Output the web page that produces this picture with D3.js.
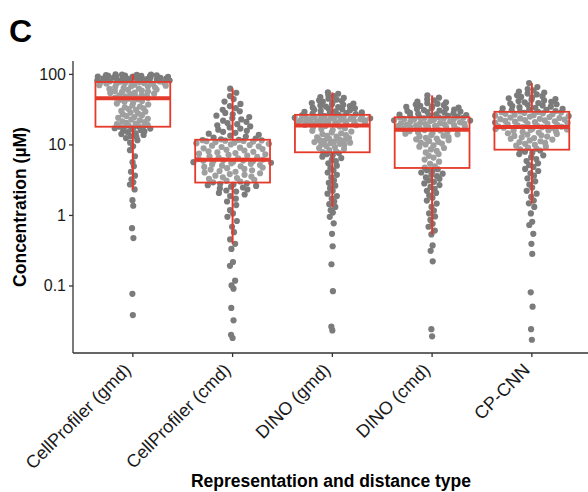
<!DOCTYPE html>
<html>
<head>
<meta charset="utf-8">
<script src="https://cdn.jsdelivr.net/npm/d3@7"></script>
<style>
  body { margin: 0; background: #fff; }
  svg { display: block; font-family: "Liberation Sans", Arial, sans-serif; }
</style>
</head>
<body>
<div id="chart"></div>
<script>
// categories on the x axis
const categories = ['CellProfiler (gmd)', 'CellProfiler (cmd)', 'DINO (gmd)', 'DINO (cmd)', 'CP-CNN'];

const cpGmd = [0.038, 0.076, 0.47, 0.65, 1.35, 1.62, 2.3, 2.7, 2.9, 3.2, 3.6, 4.1, 4.9, 5.6, 6.8, 8.3, 9.4,
  10.6, 11.5, 12.3, 12.8, 13.1, 13.6, 14.0, 14.4, 14.9, 15.3, 15.6, 16.0, 16.4, 16.8, 17.0, 17.3, 17.5, 17.6, 17.9,
  18.2, 18.5, 18.9, 19.4, 19.8, 20.3, 20.7, 21.2, 21.9, 22.5, 23.1, 23.8, 24.4, 25.2, 26.0, 26.7, 27.5, 28.3, 29.1,
  29.9, 30.8, 31.7, 32.5, 33.6, 34.5, 35.7, 36.8, 37.9, 39.0, 40.2, 41.4, 42.6, 43.7, 44.6, 45.4,
  46.3, 47.1, 48.0, 48.9, 49.7, 50.8, 51.6, 52.5, 53.6, 54.4, 55.5, 56.3, 57.4, 58.2, 59.3, 60.1, 61.2, 62.0, 63.2,
  64.1, 65.0, 66.2, 67.0, 68.1, 69.0, 70.2, 71.1, 72.0, 72.9, 73.8, 74.6, 75.3, 76.0, 76.7,
  77.3, 78.0, 78.6, 79.3, 80.0, 80.6, 81.2, 81.9, 82.5, 83.1, 83.8, 84.4, 85.0, 85.6, 86.3, 86.9, 87.5, 88.1, 88.8,
  89.4, 90.0, 90.6, 91.2, 91.8, 92.4, 93.0, 93.6, 94.2, 94.8, 95.4, 96.0, 96.7, 97.4, 98.1, 98.8];

const cpCmd = [0.018, 0.020, 0.032, 0.048, 0.09, 0.10, 0.117, 0.19, 0.215, 0.33,
  0.39, 0.45, 0.57, 0.68, 0.82, 0.94, 1.05, 1.17, 1.38, 1.55, 1.7, 1.85, 1.95, 2.05, 2.15, 2.22, 2.3, 2.38, 2.45,
  2.52, 2.58, 2.64, 2.7, 2.76, 2.82, 2.9,
  2.98, 3.06, 3.15, 3.24, 3.33, 3.42, 3.5, 3.6, 3.7, 3.8, 3.9, 4.0, 4.1, 4.2, 4.3, 4.4, 4.5, 4.6, 4.7, 4.8, 4.9,
  5.0, 5.1, 5.2, 5.3, 5.4, 5.5, 5.6, 5.7, 5.75, 5.8, 5.85, 5.9, 5.98, 6.1,
  6.2, 6.35, 6.5, 6.65, 6.8, 6.95, 7.1, 7.25, 7.4, 7.55, 7.7, 7.85, 8.0, 8.2, 8.4, 8.6, 8.8, 9.0, 9.2, 9.4, 9.6,
  9.8, 10.0, 10.2, 10.4, 10.6, 10.8, 10.95, 11.1, 11.2, 11.3, 11.4, 11.5, 11.6,
  11.8, 12.1, 12.5, 12.9, 13.3, 13.7, 14.2, 14.6, 15.1, 15.6, 16.2, 16.8, 17.4, 18.0, 18.7, 19.4, 20.1, 20.9, 21.7,
  22.6, 23.5, 24.5, 25.6, 26.8, 28.0, 29.5, 31.0, 32.8, 35.0, 37.5, 40.5, 44.0, 48.5, 54.0, 61.8];

const dinoGmd = [0.023, 0.026, 0.083, 0.2, 0.36, 0.54, 0.76, 0.94, 1.08, 1.17,
  1.3, 1.42, 1.55, 1.7, 1.85, 2.0, 2.2, 2.4, 2.6, 2.85, 3.1, 3.4, 3.7, 4.0, 4.3, 4.6, 5.0, 5.4, 5.8, 6.1, 6.4,
  6.7, 7.0, 7.3, 7.55, 7.8,
  8.0, 8.3, 8.6, 8.9, 9.2, 9.5, 9.8, 10.0, 10.2, 10.4, 10.6, 10.8, 11.0, 11.2, 11.4, 11.6, 11.8, 12.0, 12.3, 12.6,
  12.9, 13.2, 13.6, 14.0, 14.4, 14.8, 15.2, 15.6, 16.0, 16.5, 17.0, 17.5, 17.9, 18.3, 18.7,
  18.9, 19.1, 19.3, 19.5, 19.7, 19.9, 20.1, 20.3, 20.5, 20.7, 20.9, 21.1, 21.3, 21.5, 21.7, 21.9, 22.1, 22.3, 22.5,
  22.7, 22.9, 23.1, 23.3, 23.5, 23.8, 24.0, 24.3, 24.5, 24.8, 25.0, 25.3, 25.6, 25.9, 26.2,
  26.5, 26.9, 27.3, 27.7, 28.1, 28.5, 28.9, 29.4, 29.9, 30.4, 30.9, 31.4, 32.0, 32.6, 33.2, 33.8, 34.4, 35.0, 35.7,
  36.4, 37.1, 37.9, 38.7, 39.5, 40.4, 41.3, 42.3, 43.3, 44.4, 45.6, 47.0, 48.5, 50.2, 52.3, 54.8];

const dinoCmd = [0.019, 0.024, 0.22, 0.31, 0.37,
  0.53, 0.6, 0.68, 0.75, 0.85, 0.95, 1.05, 1.15, 1.3, 1.45, 1.6, 1.75, 1.9, 2.05, 2.2, 2.35, 2.5, 2.65, 2.8, 2.95,
  3.1, 3.25, 3.4, 3.55, 3.7, 3.85, 4.0, 4.15, 4.3, 4.45, 4.7,
  4.9, 5.3, 5.7, 6.1, 6.5, 6.9, 7.3, 7.7, 8.1, 8.5, 8.9, 9.3, 9.7, 10.0, 10.3, 10.6, 10.9, 11.2, 11.5, 11.8, 12.1,
  12.4, 12.7, 13.0, 13.3, 13.6, 13.9, 14.2, 14.5, 14.8, 15.1, 15.4, 15.7, 16.0, 16.4,
  16.6, 16.8, 17.0, 17.2, 17.4, 17.6, 17.8, 18.0, 18.2, 18.4, 18.6, 18.8, 19.0, 19.2, 19.4, 19.6, 19.8, 20.0, 20.3,
  20.6, 20.9, 21.2, 21.5, 21.8, 22.0, 22.3, 22.5, 22.8, 23.0, 23.3, 23.5, 23.8, 24.0, 24.2,
  24.5, 24.8, 25.1, 25.4, 25.7, 26.0, 26.4, 26.8, 27.2, 27.6, 28.0, 28.4, 28.8, 29.2, 29.7, 30.2, 30.7, 31.2, 31.7,
  32.2, 32.8, 33.4, 34.0, 34.6, 35.3, 36.0, 36.8, 37.6, 38.5, 39.5, 40.6, 42.0, 43.6, 46.0, 49.6];

const cpCnn = [0.017, 0.024, 0.05, 0.08, 0.28, 0.39, 0.54, 0.72, 0.8, 1.05, 1.3,
  1.46, 1.6, 1.8, 2.0, 2.2, 2.45, 2.7, 3.0, 3.3, 3.6, 3.9, 4.2, 4.5, 4.8, 5.1, 5.4, 5.8, 6.2, 6.6, 7.0, 7.3, 7.6,
  7.9, 8.2, 8.5,
  8.7, 9.0, 9.3, 9.6, 9.9, 10.2, 10.5, 10.8, 11.1, 11.4, 11.7, 12.0, 12.3, 12.6, 12.9, 13.2, 13.5, 13.8, 14.1, 14.4,
  14.7, 15.0, 15.3, 15.6, 15.9, 16.1, 16.3, 16.5, 16.7, 16.9, 17.1, 17.3, 17.45, 17.6, 17.8,
  18.0, 18.3, 18.6, 18.9, 19.2, 19.5, 19.8, 20.1, 20.4, 20.7, 21.0, 21.3, 21.6, 21.9, 22.2, 22.5, 22.8, 23.1, 23.4,
  23.7, 24.0, 24.4, 24.8, 25.2, 25.6, 26.0, 26.4, 26.8, 27.2, 27.6, 28.0, 28.3, 28.6, 28.9,
  29.3, 29.8, 30.3, 30.8, 31.3, 31.9, 32.5, 33.1, 33.7, 34.3, 35.0, 35.7, 36.4, 37.1, 37.9, 38.7, 39.5, 40.3, 41.2,
  42.1, 43.0, 44.0, 45.0, 46.1, 47.2, 48.4, 49.7, 51.1, 52.6, 54.3, 56.2, 58.4, 61.0, 65.0, 74.0];

const series = [cpGmd, cpCmd, dinoGmd, dinoCmd, cpCnn];
const yTicks = [0.1, 1, 10, 100];
const yTickLabels = ['0.1', '1', '10', '100'];

const W = 588, H = 492;
const plotLeft = 73, plotTop = 61, plotBottom = 353;
const RED = '#e5392b', PT = '#7b7b7b', AX = '#333';

const svg = d3.select('#chart').append('svg').attr('width', W).attr('height', H);

// log scale, 5% padding on the log range like ggplot
const [lo, hi] = d3.extent(series.flat(), v => Math.log10(v));
const pad = (hi - lo) * 0.05;
const y = d3.scaleLog().domain([10 ** (lo - pad), 10 ** (hi + pad)]).range([plotBottom, plotTop]);
const x = d3.scaleBand().domain(categories).range([plotLeft, plotLeft + 5.2 * 99.75]).paddingInner(0).paddingOuter(0.1);

// van der Corput sequence for quasirandom offsets
function vdc(i) { let r = 0, f = 0.5; while (i > 0) { r += f * (i % 2); i = Math.floor(i / 2); f /= 2; } return r; }

function quasiOffsets(vals, width) {
  const ys = vals.map(Math.log10);
  const n = ys.length;
  const s = ys.slice().sort(d3.ascending);
  const iqr = d3.quantileSorted(s, 0.75) - d3.quantileSorted(s, 0.25);
  const bw = 0.5 * 0.9 * Math.min(d3.deviation(ys), iqr / 1.34) * Math.pow(n, -0.2);
  const dens = t => d3.sum(ys, v => Math.exp(-0.5 * ((t - v) / bw) ** 2));
  const grid = d3.range(512).map(k => s[0] - 3 * bw + k * (s[n - 1] - s[0] + 6 * bw) / 511);
  const maxD = d3.max(grid, dens);
  const order = d3.range(n).sort((a, b) => ys[a] - ys[b] || a - b);
  const rank = new Array(n);
  order.forEach((idx, k) => { rank[idx] = k; });
  return ys.map((t, i) => (vdc(rank[i] + 1) - 0.5) * 2 * dens(t) / maxD * width);
}

// swarm points
series.forEach((vals, gi) => {
  const cx = x(categories[gi]) + x.bandwidth() / 2;
  const off = quasiOffsets(vals, 0.4);
  svg.append('g').selectAll('circle').data(vals).enter().append('circle')
    .attr('cx', (d, i) => cx + off[i] * x.step())
    .attr('cy', d => y(d))
    .attr('r', 3.1)
    .attr('fill', PT);
});

// box stats on log scale
const stats = series.map((vals, gi) => {
  const lv = vals.map(Math.log10).sort(d3.ascending);
  const q1 = d3.quantileSorted(lv, 0.25), med = d3.quantileSorted(lv, 0.5), q3 = d3.quantileSorted(lv, 0.75);
  const iqr = q3 - q1;
  return {
    cat: categories[gi],
    q1: 10 ** q1, med: 10 ** med, q3: 10 ** q3,
    lo: 10 ** d3.min(lv.filter(v => v >= q1 - 1.5 * iqr)),
    hi: 10 ** d3.max(lv.filter(v => v <= q3 + 1.5 * iqr))
  };
});

const boxW = x.step() * 0.75;
const bx = svg.append('g').selectAll('g').data(stats).enter().append('g')
  .attr('transform', d => `translate(${x(d.cat) + x.bandwidth() / 2},0)`);

bx.append('line').attr('y1', d => y(d.q3)).attr('y2', d => y(d.hi))
  .attr('stroke', RED).attr('stroke-width', 2);
bx.append('line').attr('y1', d => y(d.q1)).attr('y2', d => y(d.lo))
  .attr('stroke', RED).attr('stroke-width', 2);
bx.append('rect')
  .attr('x', -boxW / 2).attr('width', boxW)
  .attr('y', d => y(d.q3)).attr('height', d => y(d.q1) - y(d.q3))
  .attr('fill', 'rgba(255,255,255,0.28)').attr('stroke', RED).attr('stroke-width', 1.8);
bx.append('line').attr('x1', -boxW / 2).attr('x2', boxW / 2)
  .attr('y1', d => y(d.med)).attr('y2', d => y(d.med))
  .attr('stroke', RED).attr('stroke-width', 4);

// axes
const yAxis = svg.append('g').attr('transform', `translate(${plotLeft},0)`)
  .call(d3.axisLeft(y).tickValues(yTicks).tickFormat((d, i) => yTickLabels[i]).tickSize(4).tickSizeOuter(0).tickPadding(3));
const xAxis = svg.append('g').attr('transform', `translate(0,${plotBottom})`)
  .call(d3.axisBottom(x).tickSize(4).tickSizeOuter(0));

[yAxis, xAxis].forEach(a => {
  a.select('.domain').attr('stroke', AX).attr('stroke-width', 1.3);
  a.selectAll('.tick line').attr('stroke', AX).attr('stroke-width', 1.3);
  a.selectAll('.tick text').attr('fill', '#1a1a1a').style('font-size', '16px');
});
// y axis line runs down to meet the x axis
yAxis.select('.domain').attr('d', `M0,${plotBottom}V${plotTop}`);
xAxis.select('.domain').attr('d', `M${plotLeft},0H${W + 10}`);

xAxis.selectAll('.tick text')
  .style('font-size', '18px')
  .attr('text-anchor', 'end')
  .attr('transform', 'translate(-10,9) rotate(-45)')
  .attr('dy', '0.72em').attr('y', 0).attr('x', 0);

// titles
svg.append('text').attr('x', 331).attr('y', 487).attr('text-anchor', 'middle')
  .style('font-size', '17.5px').style('font-weight', 'bold').attr('fill', '#000')
  .text('Representation and distance type');
svg.append('text').attr('transform', `translate(26,${(plotTop + plotBottom) / 2}) rotate(-90)`)
  .attr('text-anchor', 'middle')
  .style('font-size', '17.5px').style('font-weight', 'bold').attr('fill', '#000')
  .text('Concentration (µM)');
svg.append('text').attr('x', 9).attr('y', 42)
  .style('font-size', '32px').style('font-weight', 'bold').attr('fill', '#000')
  .text('C');
</script>
</body>
</html>
